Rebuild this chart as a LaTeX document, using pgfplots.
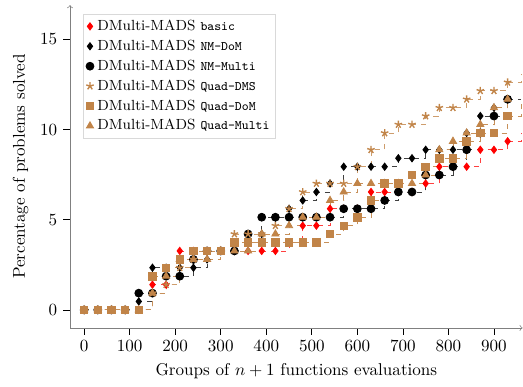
\documentclass[border=0pt]{standalone}
\usepackage{pgfplots}
\pgfplotsset{compat=1.18}
\definecolor{brn}{RGB}{193,132,72}
\newcommand\ltt[1]{{\fontsize{7.6}{9}\selectfont\texttt{#1}}}
\begin{document}
\begin{tikzpicture}
\begin{axis}[
  at={(0,0)}, anchor=south west,
  scale only axis, width=265pt, height=189pt,
  xmin=-31, xmax=963, ymin=-1, ymax=16.9,
  axis lines=left,
  axis line style={gray, ->},
  xtick={0,100,...,900}, ytick={0,5,10,15},
  tick align=outside, tick style={black, thin},
  major tick length=4pt,
  xlabel={Groups of $n+1$ functions evaluations},
  ylabel={Percentage of problems solved},
  legend style={at={(axis description cs:0.029,0.974)}, anchor=north west,
    draw=gray!30, font=\fontsize{8.6}{10}\selectfont, inner sep=1.5pt, row sep=0pt},
  legend cell align=left,
  legend image code/.code={\draw[#1, solid] plot coordinates {(0.08cm,0cm)};},
  every axis plot/.append style={const plot, dashed, line width=0.5pt},
]
\addplot[red!75, mark=diamond*, mark size=2.1pt, mark options={solid, fill=red, draw=red}] coordinates {
(0,0)(30,0)(60,0)(90,0)(120,0)(150,1.40)(180,1.40)(210,3.27)(240,3.27)(270,3.27)(300,3.27)
(330,3.27)(360,3.27)(390,3.27)(420,3.27)(450,3.74)(480,4.67)(510,4.67)(540,5.61)(570,5.61)
(600,5.61)(630,6.54)(660,6.54)(690,6.54)(720,6.54)(750,7.01)(780,7.94)(810,7.94)(840,7.94)
(870,8.88)(900,8.88)(930,9.35)};
\addlegendentry{DMulti-MADS \ltt{basic}}
\addplot[black!75, mark=diamond*, mark size=2.1pt, mark options={solid, fill=black, draw=black}] coordinates {
(0,0)(30,0)(60,0)(90,0)(120,0.47)(150,2.34)(180,2.34)(210,2.34)(240,2.34)(270,2.80)(300,3.27)
(330,3.27)(360,4.21)(390,4.21)(420,5.14)(450,5.61)(480,6.07)(510,6.54)(540,7.01)(570,7.94)
(600,7.94)(630,7.94)(660,7.94)(690,8.41)(720,8.41)(750,8.88)(780,8.88)(810,8.88)(840,9.81)
(870,10.75)(900,11.21)(930,11.68)};
\addlegendentry{DMulti-MADS \ltt{NM-DoM}}
\addplot[black!75, mark=*, mark size=2.3pt, mark options={solid, fill=black, draw=black}] coordinates {
(0,0)(30,0)(60,0)(90,0)(120,0.93)(150,0.93)(180,1.87)(210,1.87)(240,2.80)(270,3.27)(300,3.27)
(330,3.27)(360,4.21)(390,5.14)(420,5.14)(450,5.14)(480,5.14)(510,5.14)(540,5.14)(570,5.61)
(600,5.61)(630,5.61)(660,6.07)(690,6.54)(720,6.54)(750,7.48)(780,7.48)(810,7.94)(840,8.88)
(870,9.81)(900,10.75)(930,11.68)};
\addlegendentry{DMulti-MADS \ltt{NM-Multi}}
\addplot[brn!80, mark=star, mark size=2.3pt, mark options={solid, draw=brn, line width=0.8pt}] coordinates {
(0,0)(30,0)(60,0)(90,0)(120,0)(150,0.93)(180,1.40)(210,2.34)(240,2.80)(270,3.27)(300,3.27)
(330,4.21)(360,4.21)(390,4.21)(420,4.67)(450,5.61)(480,6.54)(510,7.01)(540,7.01)(570,7.01)
(600,7.94)(630,8.88)(660,9.81)(690,10.28)(720,10.28)(750,10.75)(780,11.21)(810,11.21)(840,11.68)
(870,12.15)(900,12.15)(930,12.62)};
\addlegendentry{DMulti-MADS \ltt{Quad-DMS}}
\addplot[brn!90, mark=square*, mark size=2.2pt, mark options={solid, fill=brn, draw=brn}] coordinates {
(0,0)(30,0)(60,0)(90,0)(120,0)(150,1.87)(180,2.34)(210,2.80)(240,3.27)(270,3.27)(300,3.27)
(330,3.74)(360,3.74)(390,3.74)(420,3.74)(450,3.74)(480,3.74)(510,3.74)(540,4.21)(570,4.67)
(600,5.14)(630,6.07)(660,7.01)(690,7.01)(720,7.48)(750,7.94)(780,8.41)(810,8.41)(840,9.35)
(870,9.81)(900,9.81)(930,10.75)};
\addlegendentry{DMulti-MADS \ltt{Quad-DoM}}
\addplot[brn!90, mark=triangle*, mark size=2.4pt, mark options={solid, fill=brn, draw=brn}] coordinates {
(0,0)(30,0)(60,0)(90,0)(120,0)(150,0.93)(180,1.87)(210,2.80)(240,2.80)(270,2.80)(300,3.27)
(330,3.27)(360,3.27)(390,4.21)(420,4.21)(450,4.67)(480,5.14)(510,5.14)(540,6.07)(570,6.54)
(600,7.01)(630,7.01)(660,7.01)(690,7.01)(720,7.01)(750,7.48)(780,8.88)(810,9.35)(840,9.81)
(870,10.28)(900,11.21)(930,11.68)};
\addlegendentry{DMulti-MADS \ltt{Quad-Multi}}
\addplot[red!75, no marks, forget plot] coordinates {(930,9.35)(960,9.81)};
\addplot[black!75, no marks, forget plot] coordinates {(930,11.68)(960,11.68)};
\addplot[brn!80, no marks, forget plot] coordinates {(930,12.62)(960,13.08)};
\addplot[brn!90, no marks, forget plot] coordinates {(930,10.75)(960,11.68)};
\end{axis}
\path (-41pt,-34pt) rectangle (265pt,192pt);
\end{tikzpicture}
\end{document}
